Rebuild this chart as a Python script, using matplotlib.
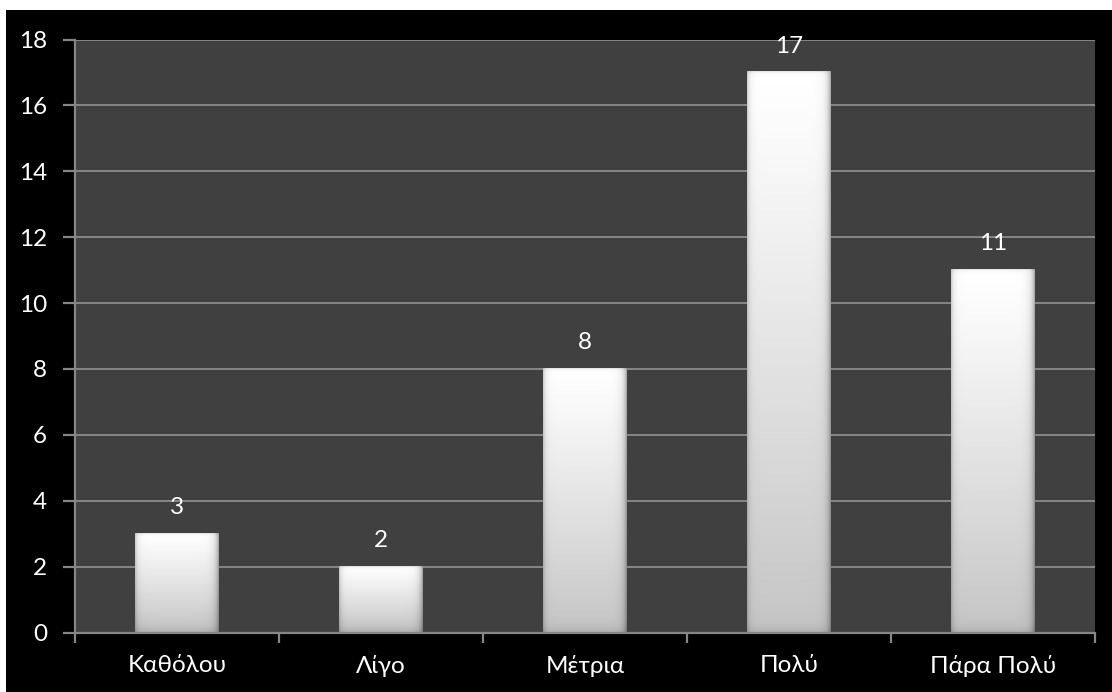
import numpy as np
import matplotlib
matplotlib.use("Agg")
import matplotlib.pyplot as plt
from matplotlib.patches import Rectangle

plt.rcParams['font.family'] = ['Lato', 'Open Sans', 'DejaVu Sans']

categories = ["Καθόλου", "Λίγο", "Μέτρια", "Πολύ", "Πάρα Πολύ"]
counts = [3, 2, 8, 17, 11]
y_ticks = [0, 2, 4, 6, 8, 10, 12, 14, 16, 18]

W, H = 1112, 692
DPI = 100
fig = plt.figure(figsize=(W / DPI, H / DPI), dpi=DPI, facecolor="white")

# black chart background with a thin white margin on the top and left
fig.patches.append(Rectangle((6 / W, 0), 1 - 6 / W, (H - 10) / H,
                             transform=fig.transFigure, facecolor="black",
                             edgecolor="none", zorder=-10))

ax = fig.add_axes([75 / W, (H - 632.5) / H, 1020 / W, 593 / H])
ax.set_zorder(5)
ax.set_facecolor("#404040")
grid_c = "#868686"
fs = 17.5

ax.set_xlim(-0.5, len(categories) - 0.5)
ax.set_ylim(0, 18)
ax.set_yticks(y_ticks)
ax.yaxis.grid(True, color=grid_c, linewidth=1.4, zorder=1)
ax.set_axisbelow(True)

for side in ("top", "right"):
    ax.spines[side].set_visible(False)
for side in ("left", "bottom"):
    ax.spines[side].set_color(grid_c)
    ax.spines[side].set_linewidth(1.6)

# category boundaries carry the x ticks; names sit at the centres
ax.set_xticks(np.arange(-0.5, len(categories), 1.0))
ax.set_xticklabels([])
ax.set_xticks(np.arange(len(categories)), minor=True)
ax.set_xticklabels(categories, minor=True)
ax.tick_params(axis="x", which="major", length=7, width=1.6, color=grid_c,
               direction="out")
ax.tick_params(axis="x", which="minor", length=0, pad=16, labelsize=fs,
               labelcolor="white")
ax.tick_params(axis="y", length=9, width=1.6, color=grid_c, direction="out",
               pad=11, labelsize=fs, labelcolor="white")

bar_w = 0.41
pos = ax.get_position()
px_per_x = pos.width * W / (ax.get_xlim()[1] - ax.get_xlim()[0])
px_per_y = pos.height * H / (ax.get_ylim()[1] - ax.get_ylim()[0])


def bar_image(wpx, hpx):
    """Bevelled bar shading: white at the top fading to grey at the base."""
    wpx, hpx = max(int(round(wpx)), 2), max(int(round(hpx)), 2)
    yy = np.linspace(0, 1, hpx)[:, None]          # 0 at top, 1 at bottom
    xx = np.arange(wpx)[None, :]
    base = 1.0 - 0.23 * yy ** 1.1
    dl = xx + 0.5
    dr = wpx - xx - 0.5
    rows = np.arange(hpx)[:, None]
    db = hpx - rows - 0.5
    dt = rows + 0.5
    shade = (1 - 0.22 * np.exp(-dl / 2.5)) * (1 - 0.38 * np.exp(-dr / 3.2))
    shade = shade * (1 - 0.10 * np.exp(-db / 5.0)) * (1 - 0.15 * np.exp(-dt / 1.2))
    img = np.clip(base * shade, 0, 1)
    return img


for i, v in enumerate(counts):
    x0, x1 = i - bar_w / 2, i + bar_w / 2
    img = bar_image(bar_w * px_per_x, v * px_per_y)
    ax.imshow(img, cmap="gray", vmin=0, vmax=1, extent=(x0, x1, 0, v),
              aspect="auto", interpolation="bilinear", zorder=2)
    ax.annotate(str(v), xy=(i, v), xytext=(0, 19), textcoords="offset points",
                ha="center", va="center", color="white", fontsize=fs,
                zorder=3)

ax.set_xlim(-0.5, len(categories) - 0.5)
ax.set_ylim(0, 18)

fig.savefig("out.png", dpi=DPI, facecolor=fig.get_facecolor())
